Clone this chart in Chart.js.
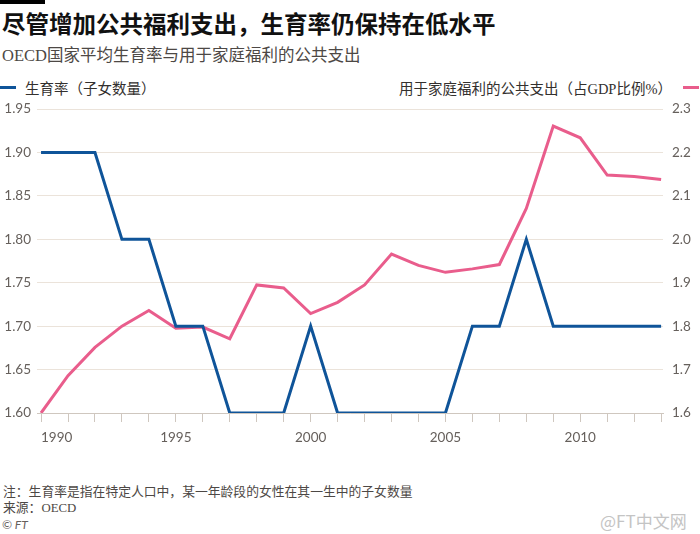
<!DOCTYPE html>
<html>
<head>
<meta charset="utf-8">
<script src="https://cdn.jsdelivr.net/npm/chart.js@4.4.1/dist/chart.umd.min.js"></script>
<style>
  body { margin: 0; background: #fff; width: 700px; height: 534px; position: relative; overflow: hidden; font-family: "Noto Sans CJK SC", sans-serif; }
  .bar { position: absolute; left: 0; top: 0; width: 45px; height: 4px; background: #000; }
  .title { position: absolute; left: 2px; top: 6px; font-size: 23.5px; font-weight: bold; color: #111; white-space: nowrap; }
  .subtitle { position: absolute; left: 2px; top: 42px; font-size: 16.5px; color: #4d4845; white-space: nowrap; font-family: "Liberation Serif", "Noto Sans CJK SC", serif; }
  .legend { position: absolute; top: 77px; font-size: 14.5px; color: #33302e; white-space: nowrap; font-family: "Liberation Serif", "Noto Sans CJK SC", serif; }
  .swatch { position: absolute; top: 86px; width: 16px; height: 3px; }
  .note { position: absolute; left: 3px; font-size: 12.8px; color: #4d4845; white-space: nowrap; font-family: "Liberation Serif", "Noto Sans CJK SC", serif; }
  .ft { position: absolute; left: 2px; top: 517px; font-size: 12px; font-style: italic; color: #66605c; font-family: "Lato", sans-serif; }
  .wm { position: absolute; left: 600px; top: 508px; font-size: 17px; color: #c4c4c4; white-space: nowrap; }
  #wrap { position: absolute; left: 0; top: 92px; width: 700px; height: 360px; }
</style>
</head>
<body>
<div class="bar"></div>
<div class="title">尽管增加公共福利支出，生育率仍保持在低水平</div>
<div class="subtitle">OECD国家平均生育率与用于家庭福利的公共支出</div>
<div class="swatch" style="left:0;background:#0f5499"></div>
<div class="legend" style="left:25px">生育率（子女数量）</div>
<div class="legend" style="right:28px">用于家庭福利的公共支出（占GDP比例%）</div>
<div class="swatch" style="left:683px;background:#e95d8c"></div>
<div id="wrap"><canvas id="chart"></canvas></div>
<div class="note" style="top:481px">注：生育率是指在特定人口中，某一年龄段的女性在其一生中的子女数量</div>
<div class="note" style="top:497px">来源：OECD</div>
<div class="ft">© FT</div>
<div class="wm">@FT中文网</div>
<script>
// data
const years = [1990, 1991, 1992, 1993, 1994, 1995, 1996, 1997, 1998, 1999, 2000, 2001,
  2002, 2003, 2004, 2005, 2006, 2007, 2008, 2009, 2010, 2011, 2012, 2013];
const fertility = [1.90, 1.90, 1.90, 1.80, 1.80, 1.70, 1.70, 1.60, 1.60, 1.60, 1.70, 1.60,
  1.60, 1.60, 1.60, 1.60, 1.70, 1.70, 1.80, 1.70, 1.70, 1.70, 1.70, 1.70];
const spending = [1.60, 1.686, 1.751, 1.80, 1.836, 1.795, 1.798, 1.771, 1.895, 1.888, 1.829, 1.855,
  1.895, 1.966, 1.940, 1.924, 1.932, 1.942, 2.071, 2.261, 2.234, 2.148, 2.145, 2.138];
const xLabelYears = [1990, 1995, 2000, 2005, 2010];

const tickFont = { family: 'Lato', size: 13.5 };
const tickColor = '#66605c';

const ctx = document.getElementById('chart').getContext('2d');
new Chart(ctx, {
  type: 'line',
  data: {
    datasets: [
      {
        label: '生育率（子女数量）',
        data: years.map((y, i) => ({ x: y, y: fertility[i] })),
        borderColor: '#0f5499',
        borderWidth: 3,
        pointRadius: 0,
        yAxisID: 'y'
      },
      {
        label: '用于家庭福利的公共支出（占GDP比例%）',
        data: years.map((y, i) => ({ x: y, y: spending[i] })),
        borderColor: '#e95d8c',
        borderWidth: 3,
        pointRadius: 0,
        yAxisID: 'y2'
      }
    ]
  },
  options: {
    responsive: true,
    maintainAspectRatio: false,
    animation: false,
    layout: { padding: { top: 11, left: 0, right: 0, bottom: 0 } },
    plugins: { legend: { display: false }, tooltip: { enabled: false } },
    scales: {
      x: {
        type: 'linear',
        min: 1989.85,
        max: 2013.07,
        afterBuildTicks: (scale) => {
          scale.ticks = years.map(v => ({ value: v }));
        },
        afterFit: (scale) => { scale.height = 39; },
        ticks: {
          autoSkip: false,
          maxRotation: 0,
          padding: 8,
          font: tickFont,
          color: tickColor,
          callback: (v) => {
            if (!xLabelYears.includes(v)) return '';
            return v === 1990 ? '\u2007\u2007\u2007\u2007' + v : String(v);
          }
        },
        grid: { drawOnChartArea: false, drawTicks: true, tickLength: 9, color: '#cfc7bf' },
        border: { display: true, color: '#cfc7bf', width: 1 }
      },
      y: {
        position: 'left',
        min: 1.6,
        max: 1.95,
        afterFit: (scale) => { scale.width = 37; },
        ticks: {
          stepSize: 0.05,
          padding: 6,
          font: tickFont,
          color: tickColor,
          callback: (v) => v.toFixed(2)
        },
        grid: { color: '#ebe3da', drawTicks: false, lineWidth: 1 },
        border: { display: false }
      },
      y2: {
        position: 'right',
        min: 1.6,
        max: 2.3,
        afterFit: (scale) => { scale.width = 37; },
        ticks: {
          stepSize: 0.1,
          padding: 9,
          font: tickFont,
          color: tickColor,
          callback: (v) => v.toFixed(1)
        },
        grid: { display: false, drawTicks: false },
        border: { display: false }
      }
    }
  }
});
</script>
</body>
</html>
